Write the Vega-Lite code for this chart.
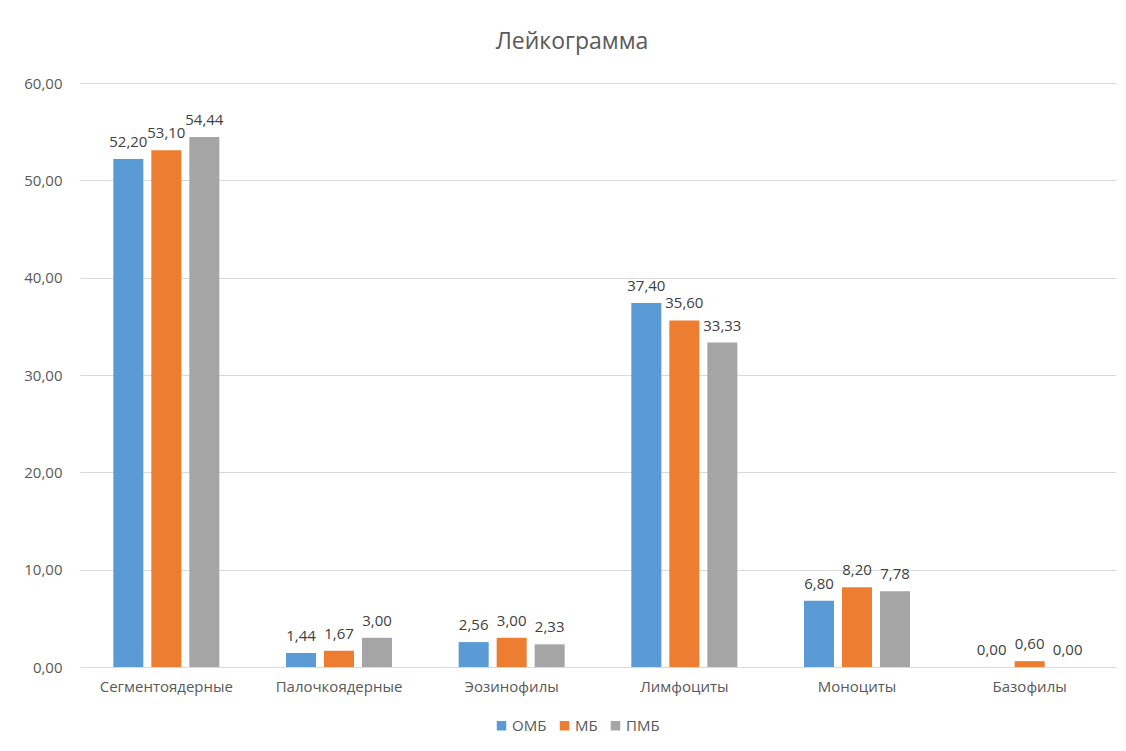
{
  "$schema": "https://vega.github.io/schema/vega-lite/v6.json",
  "autosize": {"type": "none"},
  "width": 1036,
  "height": 584,
  "padding": {"left": 80, "top": 83, "right": 10, "bottom": 84},
  "background": "white",
  "config": {
    "locale": {"number": {"decimal": ",", "thousands": " ", "grouping": [3], "currency": ["", ""]}},
    "font": "Open Sans",
    "view": {"stroke": null}
  },
  "title": {"text": "Лейкограмма", "fontSize": 23, "fontWeight": "normal", "color": "#595959", "font": "Open Sans", "offset": 22, "anchor": "middle", "dx": -26},
  "data": {"values": [
    {"cat": "Сегментоядерные", "series": "ОМБ", "value": 52.20},
    {"cat": "Сегментоядерные", "series": "МБ", "value": 53.10},
    {"cat": "Сегментоядерные", "series": "ПМБ", "value": 54.44},
    {"cat": "Палочкоядерные", "series": "ОМБ", "value": 1.44},
    {"cat": "Палочкоядерные", "series": "МБ", "value": 1.67},
    {"cat": "Палочкоядерные", "series": "ПМБ", "value": 3.00},
    {"cat": "Эозинофилы", "series": "ОМБ", "value": 2.56},
    {"cat": "Эозинофилы", "series": "МБ", "value": 3.00},
    {"cat": "Эозинофилы", "series": "ПМБ", "value": 2.33},
    {"cat": "Лимфоциты", "series": "ОМБ", "value": 37.40},
    {"cat": "Лимфоциты", "series": "МБ", "value": 35.60},
    {"cat": "Лимфоциты", "series": "ПМБ", "value": 33.33},
    {"cat": "Моноциты", "series": "ОМБ", "value": 6.80},
    {"cat": "Моноциты", "series": "МБ", "value": 8.20},
    {"cat": "Моноциты", "series": "ПМБ", "value": 7.78},
    {"cat": "Базофилы", "series": "ОМБ", "value": 0.00},
    {"cat": "Базофилы", "series": "МБ", "value": 0.60},
    {"cat": "Базофилы", "series": "ПМБ", "value": 0.00}
  ]},
  "encoding": {
    "x": {
      "field": "cat", "type": "nominal", "sort": null,
      "scale": {"paddingInner": 0.386, "paddingOuter": 0.193},
      "axis": {"title": null, "labelAngle": 0, "labelFontSize": 15, "labelColor": "#595959", "labelPadding": 12, "ticks": false, "domainColor": "#d9d9d9", "domainWidth": 1, "labelFont": "Open Sans"}
    },
    "xOffset": {"field": "series", "type": "nominal", "sort": ["ОМБ", "МБ", "ПМБ"], "scale": {"paddingInner": 0.21, "paddingOuter": 0}},
    "y": {
      "field": "value", "type": "quantitative",
      "scale": {"domain": [0, 60], "nice": false},
      "axis": {"title": null, "values": [0, 10, 20, 30, 40, 50, 60], "format": ".2f", "labelFontSize": 15, "labelColor": "#595959", "labelPadding": 18, "ticks": false, "domain": false, "gridColor": "#d9d9d9", "gridWidth": 1, "labelFont": "Open Sans"}
    }
  },
  "layer": [
    {
      "mark": {"type": "bar"},
      "encoding": {
        "color": {
          "field": "series", "type": "nominal",
          "sort": ["ОМБ", "МБ", "ПМБ"],
          "scale": {"domain": ["ОМБ", "МБ", "ПМБ"], "range": ["#5B9BD5", "#ED7D31", "#A5A5A5"]},
          "legend": {"title": null, "orient": "none", "legendX": 414, "legendY": 635, "direction": "horizontal", "symbolType": "square", "symbolSize": 90, "symbolStrokeWidth": 0, "labelFontSize": 15, "labelColor": "#595959", "labelFont": "Open Sans", "columnPadding": 10, "labelOffset": 3}
        }
      }
    },
    {
      "mark": {"type": "text", "baseline": "bottom", "dy": -9, "fontSize": 15, "color": "#404040", "font": "Open Sans"},
      "encoding": {"text": {"field": "value", "type": "quantitative", "format": ".2f"}}
    }
  ]
}
